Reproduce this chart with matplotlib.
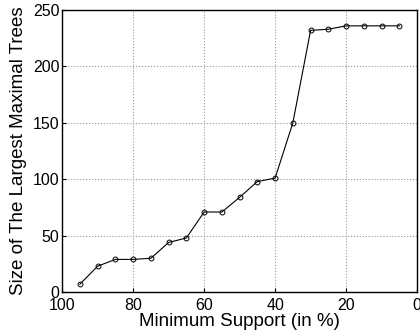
import matplotlib
matplotlib.use('Agg')
import matplotlib.pyplot as plt

support = [95, 90, 85, 80, 75, 70, 65, 60, 55, 50, 45, 40, 35, 30, 25, 20, 15, 10, 5]
tree_size = [7, 23, 29, 29, 30, 44, 48, 71, 71, 84, 98, 101, 150, 232, 233, 236, 236, 236, 236]

plt.rcParams['font.family'] = ['Liberation Sans', 'DejaVu Sans']

fig = plt.figure(figsize=(4.2, 3.35), dpi=100)
ax = fig.add_axes([0.148, 0.128, 0.845, 0.842])

ax.plot(support, tree_size, 'k-', linewidth=0.8, marker='o', markersize=3.5,
        markerfacecolor='none', markeredgecolor='k', markeredgewidth=0.7)

ax.set_xlim(100, 0)
ax.set_ylim(0, 250)
ax.set_xticks([100, 80, 60, 40, 20, 0])
ax.set_yticks([0, 50, 100, 150, 200, 250])
ax.grid(True, linestyle=':', color='#999999', linewidth=0.8)
ax.tick_params(direction='in', labelsize=11.5, length=3)
ax.tick_params(axis='x', pad=4)
ax.tick_params(axis='y', pad=2)
ax.set_xlabel('Minimum Support (in %)', fontsize=13.5, labelpad=0)
ax.set_ylabel('Size of The Largest Maximal Trees', fontsize=13.5, labelpad=4)
for s in ax.spines.values():
    s.set_linewidth(1.0)

fig.savefig('out.png', dpi=100)
